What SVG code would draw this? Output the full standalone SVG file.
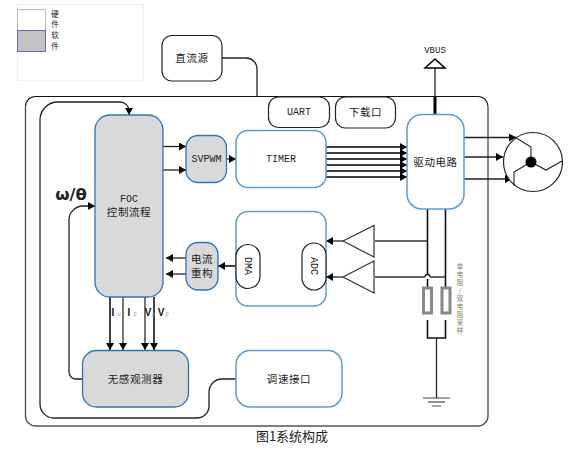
<svg xmlns="http://www.w3.org/2000/svg" width="576" height="452" viewBox="0 0 576 452">
<defs>
<marker id="a" markerUnits="userSpaceOnUse" markerWidth="9" markerHeight="9" refX="7" refY="4" orient="auto"><path d="M0 0L7 4L0 8Z" fill="#000"/></marker>
</defs>
<style>
text{font-family:"Noto Sans CJK SC","Liberation Sans",sans-serif;font-size:10.500px;fill:#222;text-anchor:middle;letter-spacing:.6px}
.m{font-family:"Liberation Mono","Noto Sans CJK SC",monospace;font-size:10px;letter-spacing:0}
.l{font-size:7.500px;letter-spacing:0}
.t{font-size:6.500px;letter-spacing:1.500px;fill:#7a7a5a;writing-mode:vertical-rl;text-orientation:upright}
.n{font-family:"Liberation Sans",sans-serif;font-size:10px;font-weight:bold;fill:#111;letter-spacing:0}
.u{font-family:"Liberation Sans",sans-serif;font-size:5.500px;fill:#99a;letter-spacing:0}
.s{fill:#d9d9d9;stroke:#2e75b6;stroke-width:1.300}
.h{fill:#fff;stroke:#5b9bd5;stroke-width:1.500}
.k{fill:#fff;stroke:#222;stroke-width:1.200}
.c{fill:none;stroke:#222;stroke-width:1.300}
.g{fill:none;stroke:#666;stroke-width:1.800}
.b{fill:none;stroke:#000;stroke-width:1.500}
.ar{marker-end:url(#a)}
</style>
<rect width="576" height="452" fill="#fff"/>
<g id="legend">
<rect x="17.500" y="4.500" width="126" height="76" fill="#fff" stroke="#eee"/>
<rect x="17.500" y="9.500" width="28" height="21" fill="#fff" stroke="#bbb"/>
<rect x="17.500" y="30.500" width="28" height="21" fill="#c3c3c3" stroke="#8064a2"/>
<text class="l" x="55" y="17">硬</text><text class="l" x="55" y="27">件</text><text class="l" x="55" y="38">软</text><text class="l" x="55" y="49">件</text>
</g>
<g id="main"><path d="M488 106.500a10 10 0 0 0-10-10H35.500a10 10 0 0 0-10 10" fill="none" stroke="#111" stroke-width="1.200"/>
<path d="M25.500 106.500V416a10 10 0 0 0 10 10H478a10 10 0 0 0 10-10V106.500" fill="none" stroke="#555" stroke-width="1.400"/></g>
<g id="connectors">
<path class="c" d="M222 58H246a11 11 0 0 1 11 11V96"/>
<path class="c ar" d="M82 379H76a7 7 0 0 1-7-7V220a14 14 0 0 1 14-14H95"/>
<path class="c ar" d="M236 379H222a13 13 0 0 0-13 13V406a12 12 0 0 1-12 12H54a14 14 0 0 1-14-14V120a18 18 0 0 1 18-18H120a9 9 0 0 1 9 9V115"/>
<path class="c ar" d="M163 146.500H186"/><path class="c ar" d="M163 170H186"/>
<path class="c ar" d="M226 159H236"/>
<path class="b ar" d="M326 147H407"/><path class="b ar" d="M326 153H407"/><path class="b ar" d="M326 159H407"/><path class="b ar" d="M326 165H407"/><path class="b ar" d="M326 171H407"/><path class="b ar" d="M326 177H407"/>
<path class="c ar" d="M186 258H166"/><path class="c ar" d="M186 274H166"/>
<path class="b ar" d="M236 266H218"/><path class="b ar" d="M302 266H260"/>
<path class="b ar" d="M110 297V350"/><path class="g ar" d="M123 297V350"/><path class="g ar" d="M145 297V350"/><path class="b ar" d="M154 297V350"/>
<path class="g ar" d="M343 241H326"/><path class="g ar" d="M343 277H326"/>
<path class="g" d="M375 241H428"/><path class="g" d="M375 277H425M430 277H446"/>
<path d="M425 277a2.500 2.500 0 0 1 5 0" class="c"/>
<path d="M427.500 209V275M427.500 279V287M427.500 320V338H445.500V320M445.500 209V287" fill="none" stroke="#111" stroke-width="1.600"/>
<path d="M436.500 338V398" class="c"/><path d="M435 109V68" class="c"/>
<path d="M435 115V97" stroke="#000" stroke-width="3" fill="none"/>
<path class="c ar" d="M464 137.500H516"/><path class="c ar" d="M464 157H503"/><path class="c ar" d="M464 179H512"/>
<path d="M425 68L435 59L445 68Z" fill="#fff" stroke="#000" stroke-width="1.500"/>
<path d="M423 398H450" stroke="#444"/><path d="M428 402H445" stroke="#222"/><path d="M432 406H441" stroke="#888" stroke-width="1.500"/>
</g>
<g id="n-dc"><rect class="k" x="162" y="35.500" width="60" height="45.500" rx="10"/><text x="192" y="62">直流源</text></g>
<g id="n-uart"><rect class="k" x="268.500" y="97" width="61" height="30.500" rx="10"/><text class="m" x="299" y="115">UART</text></g>
<g id="n-dl"><rect class="k" x="335.500" y="97" width="60" height="31" rx="10"/><text x="365.500" y="116">下载口</text></g>
<g id="n-foc"><rect class="s" x="95" y="115" width="68" height="182" rx="15"/><text class="m" x="129" y="202">FOC</text><text x="129" y="216">控制流程</text></g>
<g id="n-svpwm"><rect class="s" x="186" y="135.500" width="40.500" height="47" rx="12"/><text class="m" x="206.500" y="162">SVPWM</text></g>
<g id="n-timer"><rect class="h" x="236" y="130.500" width="90" height="57" rx="12"/><text class="m" x="281" y="162">TIMER</text></g>
<g id="n-drive"><rect class="h" x="407" y="114.500" width="57" height="94.500" rx="15"/><text x="435.500" y="166">驱动电路</text></g>
<g id="n-acq"><rect class="h" x="236" y="211.500" width="90" height="94.500" rx="12"/></g>
<g id="n-dma"><rect class="k" x="236" y="244.500" width="24" height="44" rx="12"/><text class="m" transform="translate(248 266) rotate(90)" y="3">DMA</text></g>
<g id="n-adc"><rect class="k" x="302" y="243" width="24" height="47" rx="12"/><text class="m" transform="translate(314 266) rotate(90)" y="3">ADC</text></g>
<g id="n-rec"><rect class="s" x="186" y="242.500" width="32" height="47.500" rx="12"/><text x="202" y="263">电流</text><text x="202" y="277">重构</text></g>
<g id="n-obs"><rect class="s" x="82.500" y="350.500" width="106" height="56.500" rx="14"/><text x="135.500" y="383">无感观测器</text></g>
<g id="n-speed"><rect class="h" x="236" y="350.500" width="106" height="56.500" rx="14"/><text x="289" y="383">调速接口</text></g>
<g id="n-amp1"><path d="M343 241L374 225.500V257Z" fill="#fff" stroke="#333" stroke-width="1.200"/></g>
<g id="n-amp2"><path d="M343 277L374 261V293Z" fill="#fff" stroke="#333" stroke-width="1.200"/></g>
<g id="n-r1"><rect x="423.500" y="288" width="8" height="25" fill="#fff" stroke="#888" stroke-width="3"/></g>
<g id="n-r2"><rect x="442" y="288" width="8" height="25" fill="#fff" stroke="#888" stroke-width="3"/></g>
<g id="n-motor"><circle cx="533" cy="162" r="29.500" fill="#fff" stroke="#222" stroke-width="1.200"/><path d="M531 162V147L513 136M531 162L514 172V186M531 162L546 170L562 161" fill="none" stroke="#222" stroke-width="1.100"/><circle cx="531" cy="162" r="5.500" fill="#000"/></g>
<g id="labels">
<text x="71" y="200" style="font-family:'DejaVu Sans',sans-serif;font-size:16.500px;font-weight:bold;letter-spacing:0">ω/θ</text>
<text x="435" y="53" class="m" style="font-size:9px">VBUS</text>
<text class="t" x="460" y="299">单电阻/双电阻采样</text>
<text class="n" x="113" y="316">I</text><text class="u" x="119" y="316">α</text>
<text class="n" x="129" y="316">I</text><text class="u" x="135" y="316">β</text>
<text class="n" x="148" y="316">V</text><text class="u" x="153" y="316">α</text>
<text class="n" x="161" y="316">V</text><text class="u" x="167" y="316">β</text>
<text x="292" y="441" style="font-size:13px;letter-spacing:0">图1系统构成</text>
</g>
</svg>
